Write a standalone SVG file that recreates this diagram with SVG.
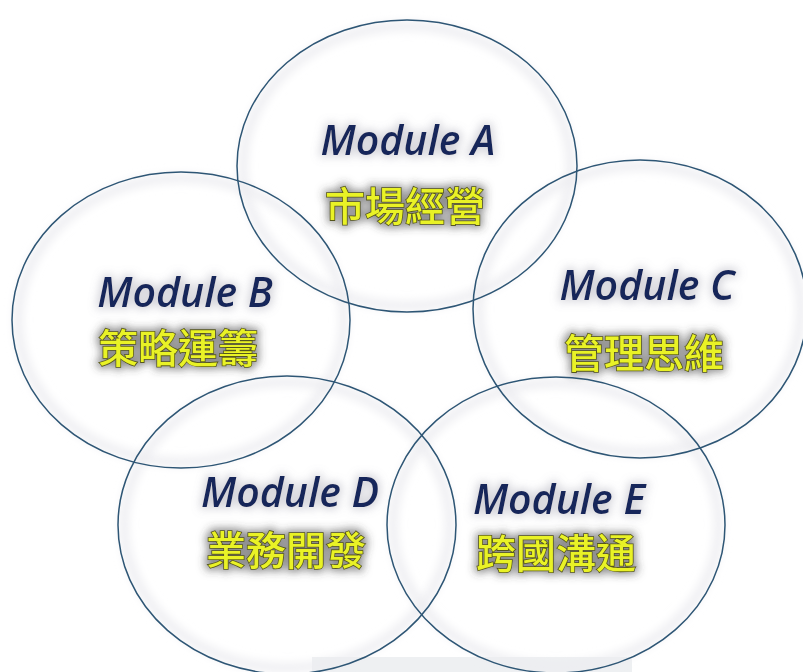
<svg xmlns="http://www.w3.org/2000/svg" width="803" height="672" viewBox="0 0 803 672">
<style>
.ring{fill:none;stroke:#2e5675;stroke-width:1.5}
.halo{fill:none;stroke:#ececf0;stroke-width:8;filter:url(#soft)}
.mod{font-family:"Open Sans","Liberation Sans",sans-serif;font-style:italic;font-weight:600;font-size:41px;fill:#16275a;text-anchor:middle;filter:url(#shadowL)}
.zh{font-family:"Noto Sans CJK TC","Noto Sans CJK SC",sans-serif;font-weight:500;font-size:40px;fill:#e9f226;stroke:#55551a;stroke-width:1.6;paint-order:stroke;text-anchor:middle;filter:url(#shadowD)}
</style>
<defs>
<filter id="soft" x="-10%" y="-10%" width="120%" height="120%"><feGaussianBlur stdDeviation="5"/></filter>
<filter id="shadowL" x="-20%" y="-40%" width="140%" height="180%">
<feMorphology in="SourceAlpha" operator="dilate" radius="2" result="d"/>
<feGaussianBlur in="d" stdDeviation="5" result="b"/>
<feFlood flood-color="#9090a0" flood-opacity="0.4"/>
<feComposite in2="b" operator="in" result="s"/>
<feMerge><feMergeNode in="s"/><feMergeNode in="SourceGraphic"/></feMerge>
</filter>
<filter id="shadowD" x="-20%" y="-40%" width="140%" height="180%">
<feMorphology in="SourceAlpha" operator="dilate" radius="2" result="d"/>
<feGaussianBlur in="d" stdDeviation="4" result="b"/>
<feFlood flood-color="#404040" flood-opacity="0.6"/>
<feComposite in2="b" operator="in" result="s"/>
<feMerge><feMergeNode in="s"/><feMergeNode in="SourceGraphic"/></feMerge>
</filter>
</defs>
<rect width="803" height="672" fill="#ffffff"/>
<rect x="312" y="657" width="320" height="15" fill="#eef0f2"/>
<g id="halos">
<ellipse class="halo" cx="407" cy="166" rx="164" ry="140"/>
<ellipse class="halo" cx="181" cy="320" rx="163" ry="142"/>
<ellipse class="halo" cx="640" cy="309" rx="161" ry="143"/>
<ellipse class="halo" cx="287" cy="525" rx="163" ry="143"/>
<ellipse class="halo" cx="556" cy="525" rx="163" ry="142"/>
</g>
<g id="moduleA">
<ellipse class="ring" cx="407" cy="166" rx="170" ry="146"/>
<text class="mod" x="408" y="155">Module A</text>
<text class="zh" x="405" y="221">市場經營</text>
</g>
<g id="moduleB">
<ellipse class="ring" cx="181" cy="320" rx="169" ry="148"/>
<text class="mod" x="185" y="307">Module B</text>
<text class="zh" x="178" y="363">策略運籌</text>
</g>
<g id="moduleC">
<ellipse class="ring" cx="640" cy="309" rx="167" ry="149"/>
<text class="mod" x="647" y="300">Module C</text>
<text class="zh" x="644" y="368">管理思維</text>
</g>
<g id="moduleD">
<ellipse class="ring" cx="287" cy="525" rx="169" ry="149"/>
<text class="mod" x="290" y="507">Module D</text>
<text class="zh" x="286" y="565">業務開發</text>
</g>
<g id="moduleE">
<ellipse class="ring" cx="556" cy="525" rx="169" ry="148"/>
<text class="mod" x="559" y="514">Module E</text>
<text class="zh" x="556" y="568">跨國溝通</text>
</g>
<g id="connectors"></g>
</svg>
